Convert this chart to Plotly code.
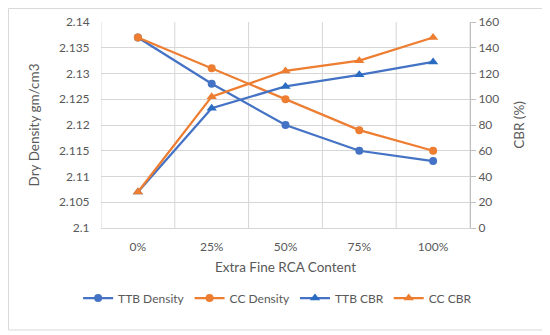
import plotly.graph_objects as go

categories = ["0%", "25%", "50%", "75%", "100%"]
ttb_density = [2.137, 2.128, 2.120, 2.115, 2.113]
cc_density = [2.137, 2.131, 2.125, 2.119, 2.115]
ttb_cbr = [28, 93, 110, 119, 129]
cc_cbr = [28, 102, 122, 130, 148]

BLUE = "#4472C4"
BLUE_TRI = "#2A6CC2"
ORANGE = "#ED7D31"
TXT = "#595959"
GRID = "#D6D6D6"
FONT = "Lato"

pos = list(range(len(categories)))
bounds = [p - 0.5 for p in pos] + [pos[-1] + 0.5]
xr = [bounds[0], bounds[-1]]

fig = go.Figure()
fig.add_trace(go.Scatter(x=pos, y=ttb_density, name="TTB Density", mode="lines+markers",
                         line=dict(color=BLUE, width=2.25), marker=dict(symbol="circle", size=8, color=BLUE)))
fig.add_trace(go.Scatter(x=pos, y=cc_density, name="CC Density", mode="lines+markers",
                         line=dict(color=ORANGE, width=2.25), marker=dict(symbol="circle", size=8, color=ORANGE)))
fig.add_trace(go.Scatter(x=pos, y=ttb_cbr, name="TTB CBR", mode="lines+markers", xaxis="x2", yaxis="y2",
                         line=dict(color=BLUE, width=2.25), marker=dict(symbol="triangle-up", size=9, color=BLUE_TRI)))
fig.add_trace(go.Scatter(x=pos, y=cc_cbr, name="CC CBR", mode="lines+markers", xaxis="x2", yaxis="y2",
                         line=dict(color=ORANGE, width=2.25), marker=dict(symbol="triangle-up", size=9, color=ORANGE)))

# category-boundary grid lines (Excel style), placed through the x axis scale
grid_shapes = [dict(type="line", xref="x", yref="paper", x0=b, x1=b, y0=0, y1=1, layer="below",
                    line=dict(color=GRID, width=1)) for b in bounds]

fig.update_layout(
    width=550, height=335,
    margin=dict(l=93, r=88, t=14, b=115, autoexpand=False),
    paper_bgcolor="white", plot_bgcolor="white",
    font=dict(family=FONT, size=12, color=TXT),
    xaxis=dict(tickmode="array", tickvals=bounds, showticklabels=False, showgrid=False,
               showline=True, linecolor=GRID, ticks="",
               range=xr, zeroline=False, automargin=False),
    xaxis2=dict(overlaying="x", side="bottom", tickmode="array", tickvals=pos, ticktext=categories,
                showgrid=False, showline=False, ticks="outside", ticklen=8, tickcolor="rgba(0,0,0,0)",
                range=xr, zeroline=False, automargin=False,
                title=dict(text="Extra Fine RCA Content", font=dict(size=13.5, color=TXT), standoff=9),
                tickfont=dict(size=12, color=TXT)),
    yaxis=dict(range=[2.1, 2.14], dtick=0.005, showgrid=True, gridcolor=GRID, gridwidth=1,
               showline=False, zeroline=False, ticks="outside", ticklen=8,
               tickcolor="rgba(0,0,0,0)", automargin=False,
               title=dict(text="Dry Density gm/cm3", font=dict(size=13.5, color=TXT), standoff=16),
               tickfont=dict(size=12, color=TXT)),
    yaxis2=dict(range=[0, 160], dtick=20, overlaying="y", side="right", anchor="x2", showgrid=False,
                showline=True, linecolor="#BFBFBF", ticks="outside", ticklen=5, tickcolor="#BFBFBF",
                zeroline=False, automargin=False,
                title=dict(text="CBR (%)", font=dict(size=13.5, color=TXT), standoff=16),
                tickfont=dict(size=12, color=TXT)),
    legend=dict(orientation="h", x=-0.062, xanchor="left", y=-0.34, yanchor="middle",
                font=dict(size=12, color=TXT), itemwidth=30, tracegroupgap=0),
    shapes=grid_shapes + [dict(type="rect", xref="paper", yref="paper", x0=-0.2507, x1=1.2033,
                               y0=-0.495, y1=1.0655, line=dict(color="#D9D9D9", width=1))],
)

fig.write_html("out.html")
